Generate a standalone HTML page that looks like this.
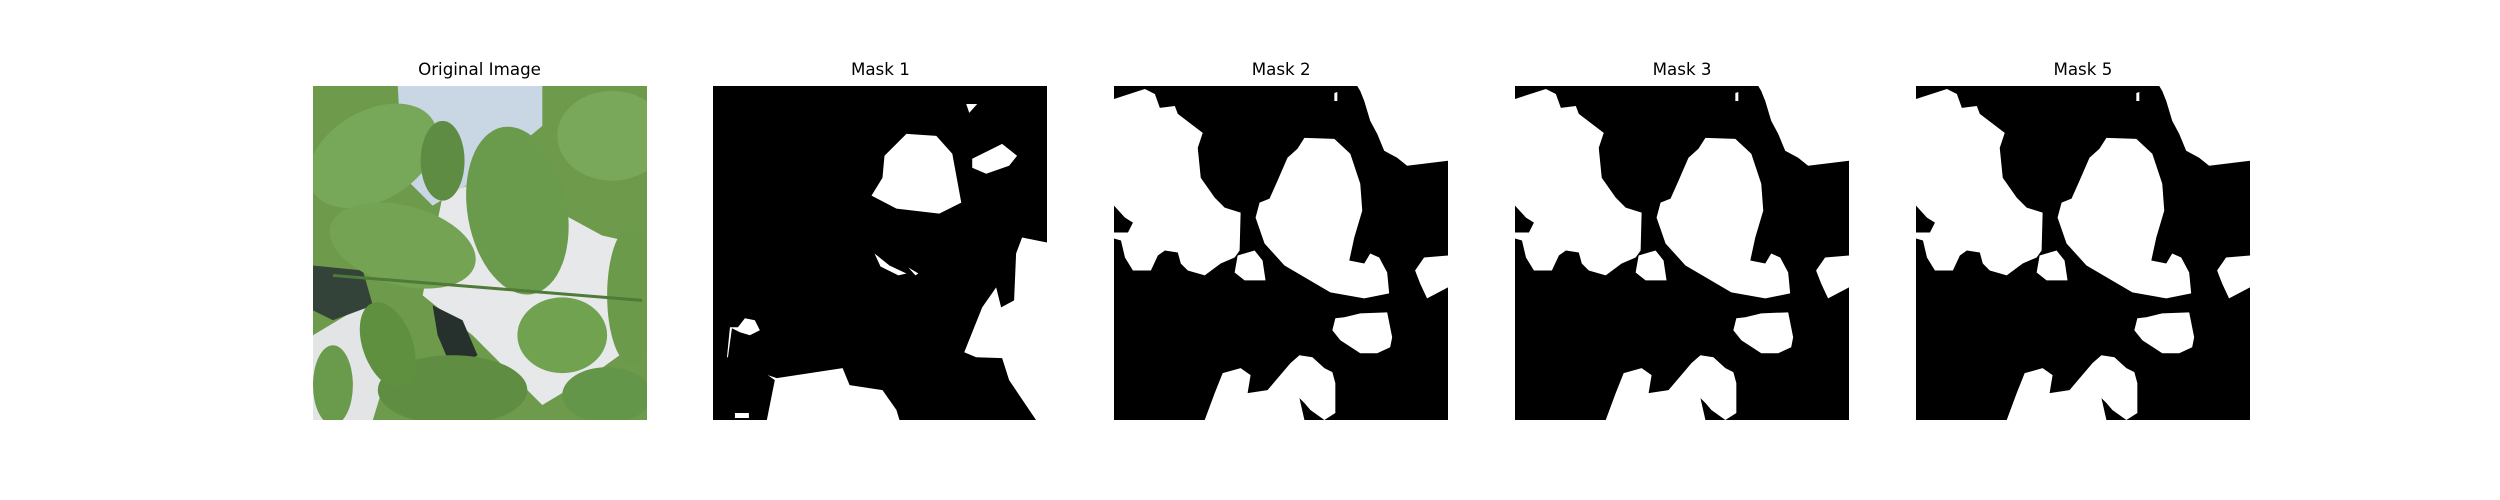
<!DOCTYPE html>
<html>
<head>
<meta charset="utf-8">
<style>
  html,body{margin:0;padding:0;background:#fff;}
  body{width:2500px;height:500px;position:relative;overflow:hidden;font-family:"DejaVu Sans","Liberation Sans",sans-serif;}
  .title{position:absolute;top:59px;width:334px;text-align:center;font-size:16.7px;color:#000;}
  svg.panel{position:absolute;top:85.5px;width:334px;height:334px;}
</style>
</head>
<body>
<div class="title" style="left:312.5px">Original Image</div>
<div class="title" style="left:713.4px">Mask 1</div>
<div class="title" style="left:1114.2px">Mask 2</div>
<div class="title" style="left:1515.1px">Mask 3</div>
<div class="title" style="left:1915.9px">Mask 5</div>

<svg class="panel" style="left:312.5px" viewBox="0 0 335 335" preserveAspectRatio="none">
  <rect width="335" height="335" fill="#6e9a4c"/>
  <polygon points="85,0 230,0 230,40 170,90 120,120 90,90" fill="#c9d6e4"/>
  <polygon points="130,110 180,90 290,150 335,160 335,250 280,290 230,320 160,250 110,210" fill="#e6e8ea"/>
  <polygon points="0,250 50,220 80,270 60,335 0,335" fill="#e2e4e6"/>
  <polygon points="0,180 50,185 60,220 20,235 0,225" fill="#34433a"/>
  <polygon points="120,220 150,235 165,270 140,285 125,250" fill="#26302c"/>
  <ellipse cx="60" cy="70" rx="70" ry="45" fill="#77a85a" transform="rotate(-30 60 70)"/>
  <ellipse cx="205" cy="125" rx="50" ry="85" fill="#6a9a4c" transform="rotate(-10 205 125)"/>
  <ellipse cx="90" cy="160" rx="75" ry="40" fill="#73a353" transform="rotate(15 90 160)"/>
  <ellipse cx="300" cy="50" rx="55" ry="45" fill="#7aa85a"/>
  <ellipse cx="250" cy="250" rx="45" ry="38" fill="#70a250"/>
  <ellipse cx="140" cy="305" rx="75" ry="35" fill="#5f8e42"/>
  <ellipse cx="75" cy="260" rx="25" ry="45" fill="#5f9040" transform="rotate(-20 75 260)"/>
  <ellipse cx="320" cy="210" rx="25" ry="70" fill="#6a9a4a"/>
  <ellipse cx="130" cy="75" rx="22" ry="40" fill="#5e8c43"/>
  <ellipse cx="295" cy="310" rx="45" ry="28" fill="#64964a"/>
  <ellipse cx="20" cy="300" rx="20" ry="40" fill="#6a9a4c"/>
  <line x1="20" y1="190" x2="330" y2="215" stroke="#4f7a38" stroke-width="3"/>
</svg>

<svg class="panel" id="m1" style="left:713.4px" viewBox="0 0 335 335" preserveAspectRatio="none"></svg>
<svg class="panel" id="m2" style="left:1114.2px" viewBox="0 0 335 335" preserveAspectRatio="none"></svg>
<svg class="panel" id="m3" style="left:1515.1px" viewBox="0 0 335 335" preserveAspectRatio="none"></svg>
<svg class="panel" id="m5" style="left:1915.9px" viewBox="0 0 335 335" preserveAspectRatio="none"></svg>

<script>
const mask1Regions = [
  [[194,48],[224,50],[240,68],[245,95],[249,117],[227,128],[184,123],[159,110],[170,92],[172,70]],
  [[260,73],[290,58],[305,70],[297,80],[274,88],[260,82]],
  [[310,152],[335,157],[335,335],[324,335],[297,295],[290,273],[264,272],[252,267],[270,222],[284,202],[289,222],[302,215],[304,168]],
  [[55,290],[64,293],[130,283],[137,300],[170,305],[184,325],[187,335],[54,335],[62,295]],
  [[32,233],[42,235],[47,245],[37,250],[27,247],[19,243],[15,272],[14,272],[17,242],[25,242]],
  [[162,168],[177,180],[194,188],[186,190],[168,181]],
  [[254,18],[265,18],[257,27]],
  [[22,328],[36,328],[36,333],[22,333]],
  [[196,182],[206,188],[203,190]]
];
const maskRegions = [
  [[0,13],[31,3],[41,8],[46,22],[61,20],[64,28],[89,47],[84,62],[87,92],[101,112],[111,122],[127,127],[126,165],[121,172],[107,178],[91,190],[74,185],[67,178],[64,167],[51,165],[44,170],[37,185],[19,185],[11,172],[7,155],[0,153],[0,147],[14,147],[19,137],[11,132],[0,120]],
  [[124,170],[141,165],[149,175],[152,195],[131,195],[121,187]],
  [[191,52],[221,53],[237,68],[247,98],[249,125],[241,152],[236,175],[251,178],[257,168],[266,172],[274,187],[276,208],[251,213],[217,207],[171,180],[151,158],[142,132],[146,117],[156,113],[164,95],[174,72],[184,63]],
  [[244,0],[335,0],[335,75],[294,80],[284,72],[271,65],[264,48],[257,35],[251,15],[247,5]],
  [[311,172],[335,170],[335,202],[314,213],[307,198],[302,185]],
  [[231,232],[247,228],[274,227],[279,252],[277,262],[264,268],[247,268],[227,255],[219,245],[222,233]],
  [[109,288],[127,283],[137,290],[134,308],[154,305],[177,278],[186,270],[199,272],[211,283],[219,287],[222,298],[222,328],[211,335],[197,325],[191,318],[186,313],[191,335],[91,335],[101,308]],
  [[221,7],[224,6],[224,15],[221,15]]
];
const NS = 'http://www.w3.org/2000/svg';
function drawMask(id, regions){
  const svg = document.getElementById(id);
  const bg = document.createElementNS(NS,'rect');
  bg.setAttribute('width','335'); bg.setAttribute('height','335'); bg.setAttribute('fill','#000');
  
  
  svg.appendChild(bg);
  regions.forEach(r => {
    const p = document.createElementNS(NS,'polygon');
    p.setAttribute('points', r.map(q => q[0]+','+q[1]).join(' '));
    p.setAttribute('fill','#fff');
    
    
    svg.appendChild(p);
  });
}
drawMask('m1', mask1Regions);
drawMask('m2', maskRegions);
drawMask('m3', maskRegions);
drawMask('m5', maskRegions);
</script>
</body>
</html>
